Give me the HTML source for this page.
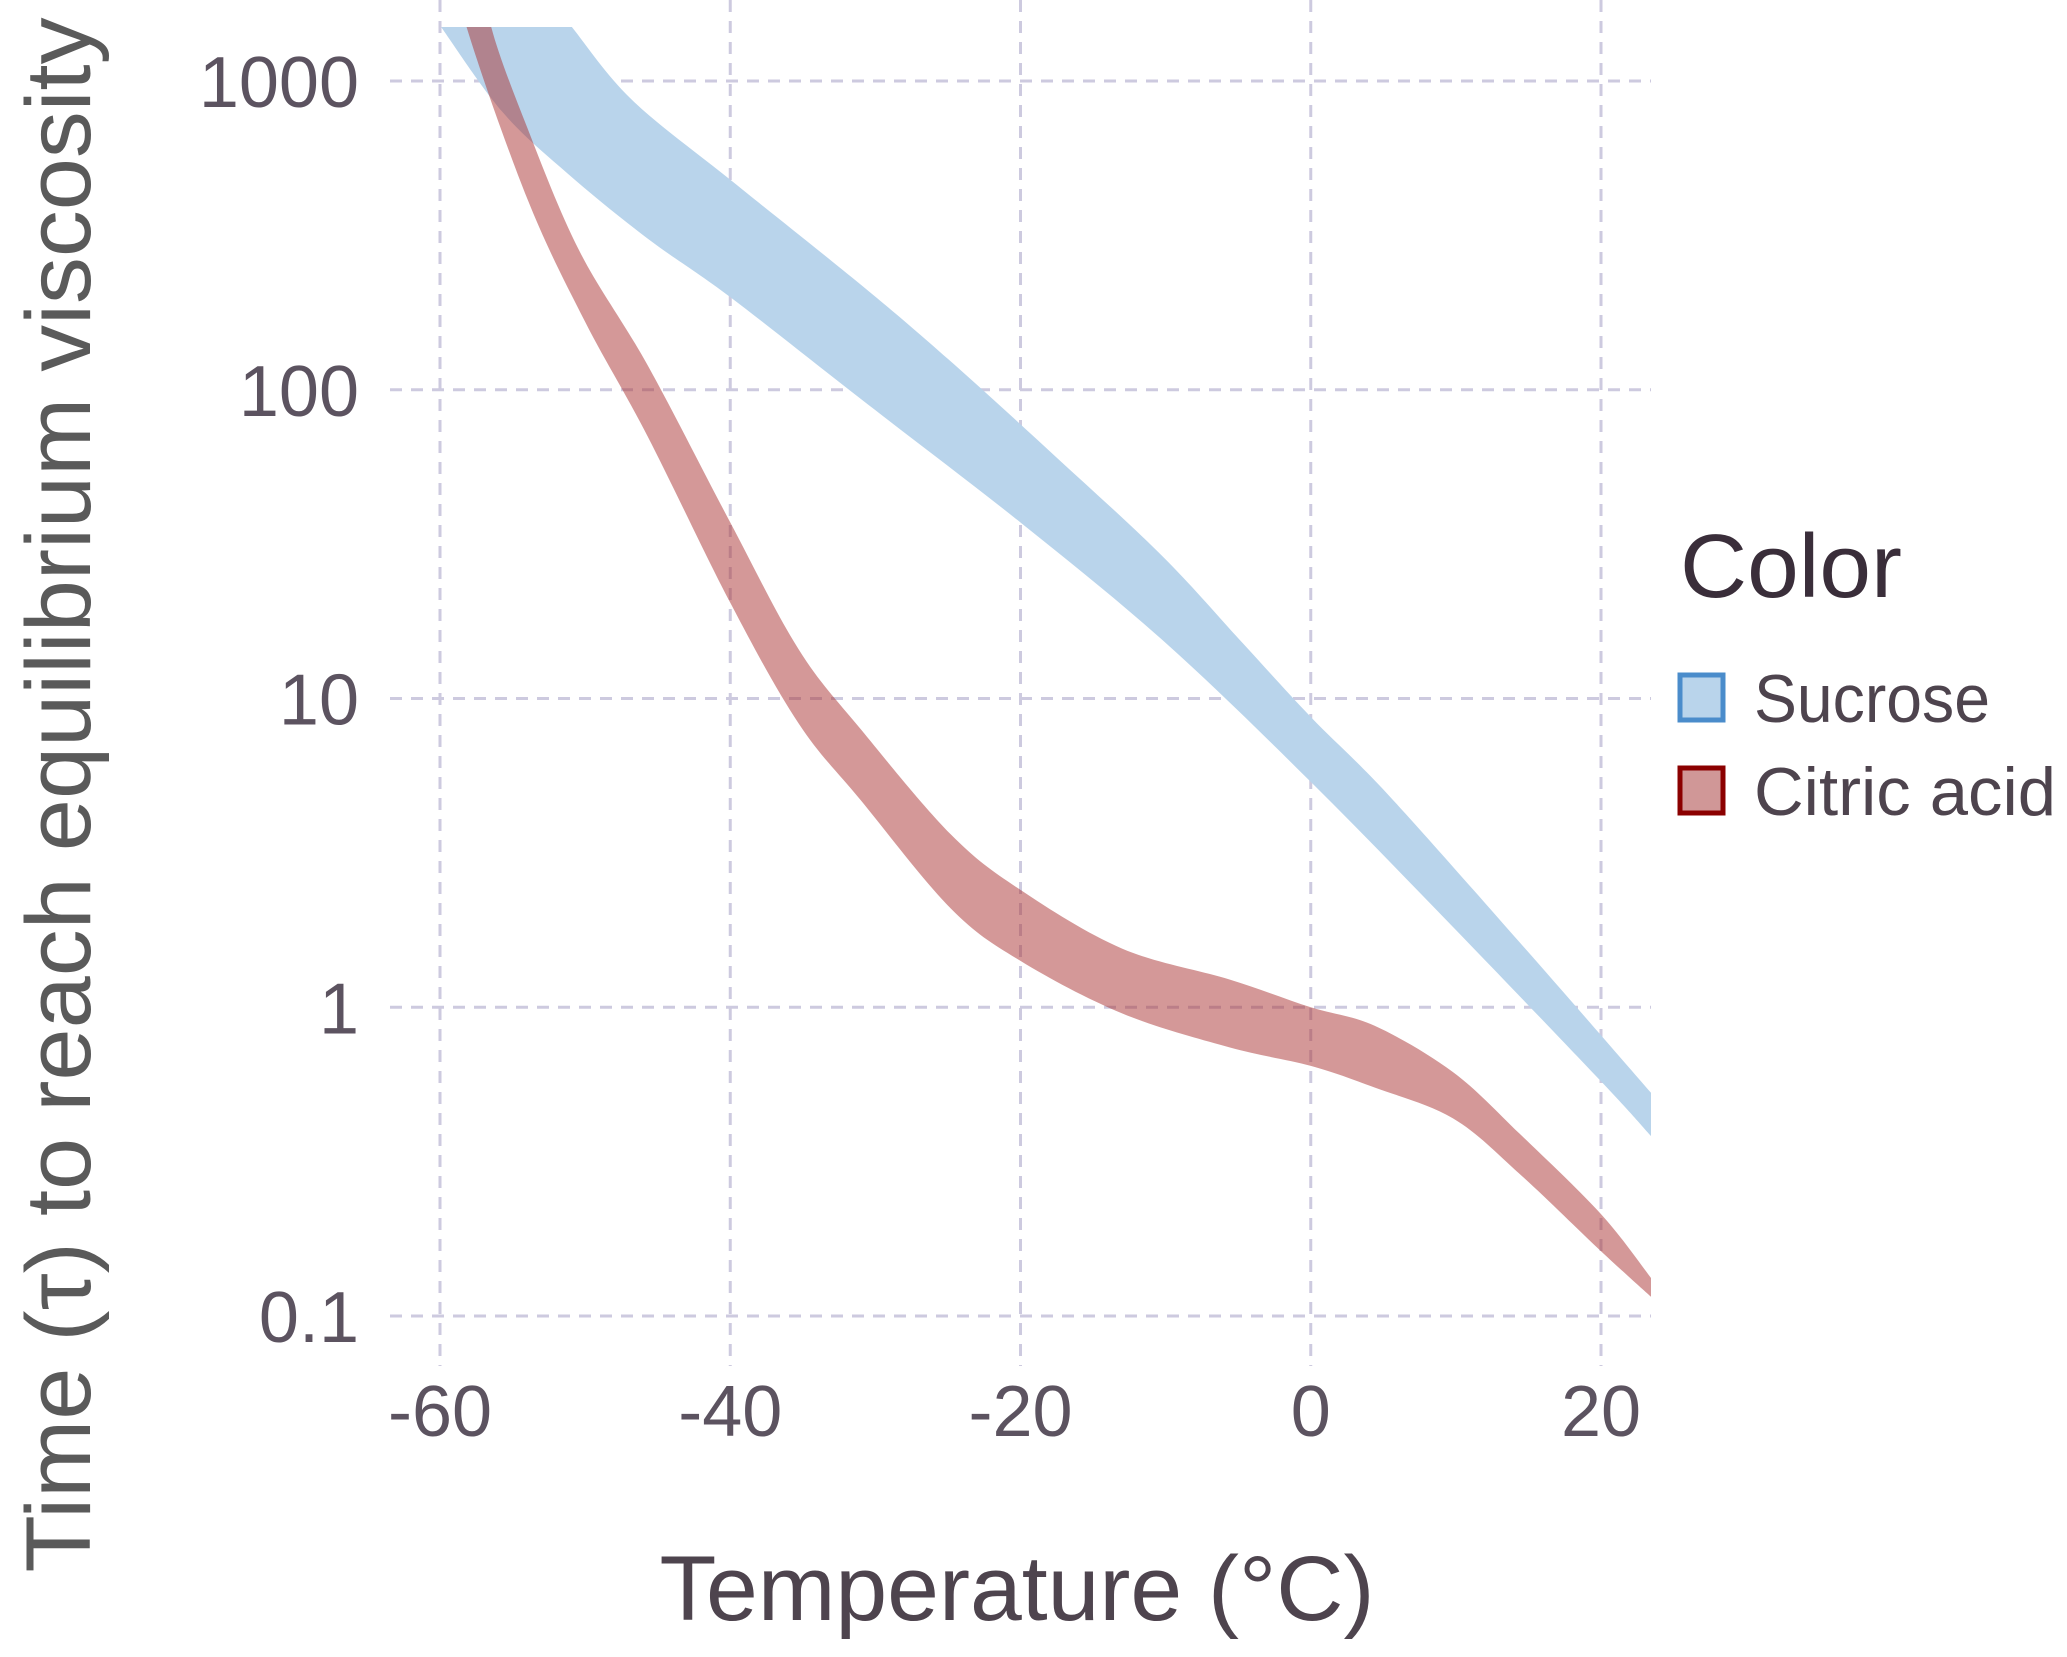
<!DOCTYPE html>
<html><head><meta charset="utf-8"><style>
html,body{margin:0;padding:0;background:#fff}
svg{display:block}
text{font-family:"Liberation Sans",sans-serif}
</style></head><body>
<svg id="chart" width="2067" height="1657" viewBox="0 0 2067 1657" xmlns="http://www.w3.org/2000/svg">
<defs><clipPath id="plotclip"><rect x="390" y="27" width="1261" height="1340"/></clipPath></defs>
<g id="grid"></g>
<g id="bands" clip-path="url(#plotclip)"></g>
<g id="yticks"></g>
<g id="xticks"></g>
<text x="1017" y="1620" text-anchor="middle" font-size="92" fill="#4e444e" textLength="715" lengthAdjust="spacingAndGlyphs">Temperature (°C)</text>
<text transform="translate(90,795) rotate(-90)" text-anchor="middle" font-size="92" fill="#5a5a5a" textLength="1555" lengthAdjust="spacingAndGlyphs">Time (τ) to reach equilibrium viscosity</text>
<g>
<text x="1680" y="597" font-size="90" fill="#3a2e3a" textLength="222" lengthAdjust="spacingAndGlyphs">Color</text>
<rect x="1680" y="675" width="43" height="45" fill="#b9d4eb" stroke="#4a8ccb" stroke-width="5"/>
<text x="1754" y="722" font-size="68" fill="#4e444e" textLength="236" lengthAdjust="spacingAndGlyphs">Sucrose</text>
<rect x="1680" y="768" width="43" height="45" fill="#d09797" stroke="#8b0000" stroke-width="5"/>
<text x="1754" y="815" font-size="68" fill="#4e444e" textLength="302" lengthAdjust="spacingAndGlyphs">Citric acid</text>
</g>
</svg>
<script>
const xTicks=[-60,-40,-20,0,20];
const yTicks=[1000,100,10,1,0.1];
const yTickLabels=["1000","100","10","1","0.1"];
const sucroseUpperT=[-53,-51,-46.8,-40,-31,-25,-17.5,-10.2,-4.7,0,5.3,14.4,23.5];
const sucroseUpperLog=[3.3,3.18,2.94,2.68,2.34,2.10,1.78,1.46,1.18,0.94,0.69,0.21,-0.28];
const sucroseLowerT=[-60,-55.7,-51.2,-45.7,-40,-31,-20,-10,0,9.8,20,23.5];
const sucroseLowerLog=[3.18,2.9,2.70,2.49,2.30,1.97,1.57,1.18,0.73,0.26,-0.24,-0.42];
const citricUpperT=[-57,-56.5,-54,-50.4,-45.7,-40,-35.3,-31,-24.8,-20,-13,-5.6,0,4.4,9.8,14.4,20,23.5];
const citricUpperLog=[3.4,3.18,2.85,2.45,2.08,1.57,1.16,0.90,0.56,0.38,0.19,0.09,0.0,-0.06,-0.21,-0.41,-0.67,-0.88];
const citricLowerT=[-59,-58.2,-54,-50,-45.7,-40,-35.3,-31,-24.8,-20,-13,-5.6,0,4.4,9.8,14.4,20,23.5];
const citricLowerLog=[3.4,3.18,2.62,2.22,1.85,1.31,0.92,0.67,0.32,0.15,-0.02,-0.13,-0.19,-0.26,-0.36,-0.54,-0.79,-0.94];

const NS="http://www.w3.org/2000/svg";
function xs(t){return 440+(t+60)*(1601-440)/80;}
function ys(l){return 81+(3-l)*(1316-81)/4;}
function mk(tag,attrs,parent){const e=document.createElementNS(NS,tag);for(const k in attrs)e.setAttribute(k,attrs[k]);parent.appendChild(e);return e;}
const grid=document.getElementById('grid');
xTicks.forEach(t=>{const l=mk('line',{x1:xs(t),x2:xs(t),y1:0,y2:1366,stroke:'#cdcadf','stroke-width':3,'stroke-dasharray':'12 9'},grid);

});
yTicks.forEach(v=>{const l=mk('line',{x1:390,x2:1651,y1:ys(Math.log10(v)),y2:ys(Math.log10(v)),stroke:'#cdcadf','stroke-width':3,'stroke-dasharray':'12 9'},grid);

});
const yt=document.getElementById('yticks');
yTicks.forEach((v,i)=>{const e=mk('text',{x:359,y:ys(Math.log10(v))+26,'text-anchor':'end','font-size':72,fill:'#5c5360'},yt);e.textContent=yTickLabels[i];

});
const xt=document.getElementById('xticks');
xTicks.forEach(t=>{const e=mk('text',{x:xs(t),y:1436,'text-anchor':'middle','font-size':72,fill:'#5c5360'},xt);e.textContent=String(t);

});
function smooth(pts,start){let d=start?'M'+pts[0][0].toFixed(1)+','+pts[0][1].toFixed(1):' L'+pts[0][0].toFixed(1)+','+pts[0][1].toFixed(1);
for(let i=0;i<pts.length-1;i++){const p0=pts[Math.max(i-1,0)],p1=pts[i],p2=pts[i+1],p3=pts[Math.min(i+2,pts.length-1)];
const c1=[p1[0]+(p2[0]-p0[0])/6,p1[1]+(p2[1]-p0[1])/6],c2=[p2[0]-(p3[0]-p1[0])/6,p2[1]-(p3[1]-p1[1])/6];
d+=' C'+c1[0].toFixed(1)+','+c1[1].toFixed(1)+' '+c2[0].toFixed(1)+','+c2[1].toFixed(1)+' '+p2[0].toFixed(1)+','+p2[1].toFixed(1);}
return d;}
function band(uT,uL,lT,lL){const up=uT.map((t,i)=>[xs(t),ys(uL[i])]);const lo=lT.map((t,i)=>[xs(t),ys(lL[i])]).reverse();
return smooth(up,true)+smooth(lo,false)+'Z';}
const bands=document.getElementById('bands');
const s=mk('path',{d:band(sucroseUpperT,sucroseUpperLog,sucroseLowerT,sucroseLowerLog),fill:'#b9d4eb'},bands);


const c=mk('path',{d:band(citricUpperT,citricUpperLog,citricLowerT,citricLowerLog),fill:'rgb(170,50,50)','fill-opacity':0.5},bands);


</script>
</body></html>
